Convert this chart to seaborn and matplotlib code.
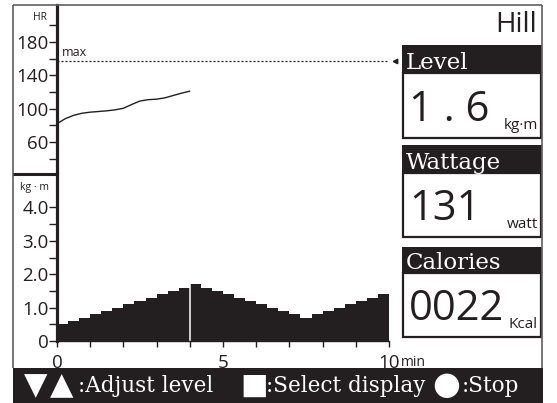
import matplotlib
matplotlib.use("Agg")
import matplotlib.pyplot as plt
from matplotlib.patches import Rectangle
from matplotlib.lines import Line2D
import seaborn as sns

# Heart-rate trace recorded so far (minutes, bpm)
hr_time = [0.0, 0.25, 0.5, 0.75, 1.0, 1.25, 1.5, 1.75, 2.0,
           2.25, 2.5, 2.75, 3.0, 3.25, 3.5, 3.75, 4.0]
hr_bpm = [82, 88, 92, 94.5, 95.8, 96.6, 97.4, 98.6, 100.5,
          105, 109.2, 110.8, 111.4, 113, 115.8, 118.6, 121]
hr_max = 157
hr_ticks = [60, 100, 140, 180]
hr_minor_ticks = [40, 80, 120, 160, 200]

# Hill program: load for each 20-second segment (kg·m)
segment_min = 1 / 3
load_kgm = [0.5, 0.6, 0.7, 0.8, 0.9, 1.0, 1.1, 1.2, 1.3, 1.4, 1.5, 1.6,
            1.7, 1.6, 1.5, 1.4, 1.3, 1.2, 1.1, 1.0, 0.9, 0.8, 0.7,
            0.8, 0.9, 1.0, 1.1, 1.2, 1.3, 1.4]
elapsed_min = 4
load_ticks = [0, 1, 2, 3, 4]
load_tick_labels = ["0", "1.0", "2.0", "3.0", "4.0"]
load_minor_ticks = [0.5, 1.5, 2.5, 3.5]
time_ticks = [0, 1, 2, 3, 4, 5, 6, 7, 8, 9, 10]
time_tick_labels = ["0", "", "", "", "", "5", "", "", "", "", "10"]

program_name = "Hill"
current_level = 1.6
wattage = 131
calories = 22

sns.set_theme(style="white")
plt.rcParams["font.family"] = ["Open Sans", "DejaVu Sans"]

INK = "#231f20"
FRAME = "#5f5f5f"
W, H = 557, 403
fig = plt.figure(figsize=(W / 100, H / 100), dpi=100)
fig.patch.set_facecolor("white")


def fx(x):
    return x / W


def fy(y):
    return 1 - y / H


def axes_px(x0, y0, x1, y1):
    return fig.add_axes([fx(x0), fy(y1), (x1 - x0) / W, (y1 - y0) / H])


def line_px(x0, y0, x1, y1, color, lw):
    fig.add_artist(Line2D([fx(x0), fx(x1)], [fy(y0), fy(y1)],
                          transform=fig.transFigure, color=color, lw=lw,
                          solid_capstyle="butt"))


def rect_px(x0, y0, x1, y1, **kw):
    fig.add_artist(Rectangle((fx(x0), fy(y1)), (x1 - x0) / W, (y1 - y0) / H,
                             transform=fig.transFigure, **kw))


# ---- heart-rate panel ----
ax_hr = axes_px(57, 5, 389, 174)
sns.lineplot(x=hr_time, y=hr_bpm, ax=ax_hr, color=INK, linewidth=1.0)
ax_hr.plot([0, 10.0], [hr_max, hr_max], color=INK, lw=0.9,
           ls=(0, (1.6, 1.6)), clip_on=False)
ax_hr.plot([10.17], [hr_max], marker="<", ms=3.2, color=INK, clip_on=False)
ax_hr.text(0.15, 167, "max", fontsize=9, color=INK, va="center")
ax_hr.set_xlim(0, 10)
ax_hr.set_ylim(21.6, 224.4)
ax_hr.set_yticks(hr_ticks)
ax_hr.set_yticklabels([str(t) for t in hr_ticks])
ax_hr.set_yticks(hr_minor_ticks, minor=True)
ax_hr.set_xticks([])

# ---- load panel ----
ax_ld = axes_px(57, 174, 389, 341)
centers = [(i + 0.5) * segment_min for i in range(len(load_kgm))]
sns.barplot(x=centers, y=load_kgm, ax=ax_ld, native_scale=True, width=1.0,
            color=INK, saturation=1, edgecolor="none", linewidth=0)
ax_ld.axvline(elapsed_min, color="white", lw=1.1)
ax_ld.set_xlim(0, 10)
ax_ld.set_ylim(0, 5.0)
ax_ld.set_yticks(load_ticks)
ax_ld.set_yticklabels(load_tick_labels)
ax_ld.set_yticks(load_minor_ticks, minor=True)
ax_ld.set_xticks(time_ticks)
ax_ld.set_xticklabels(time_tick_labels)

for ax in (ax_hr, ax_ld):
    ax.set_facecolor("white")
    ax.set_xlabel("")
    ax.set_ylabel("")
    ax.grid(False)
    for s in ("top", "right"):
        ax.spines[s].set_visible(False)
    ax.spines["left"].set_color(INK)
    ax.spines["left"].set_linewidth(2.3)
    ax.tick_params(axis="y", which="both", direction="out", length=5.5,
                   width=1.0, color=INK, pad=0.5, labelsize=13.5,
                   labelcolor=INK, left=True)
ax_hr.spines["bottom"].set_visible(False)
ax_ld.spines["bottom"].set_color(INK)
ax_ld.spines["bottom"].set_linewidth(1.0)
ax_ld.tick_params(axis="x", which="major", direction="out", length=4,
                  width=1.0, color=INK, pad=5.5, labelsize=13.5, labelcolor=INK,
                  bottom=True)

# axis captions
fig.text(fx(47), fy(17), "HR", fontsize=7.5, ha="right", va="center", color=INK)
fig.text(fx(35), fy(187), "kg · m", fontsize=7.5, ha="center", va="center",
         color=INK)
fig.text(fx(401), fy(366), "min", fontsize=10, ha="left", va="baseline",
         color=INK)

# ---- outer frame ----
line_px(13, 5, 542, 5, FRAME, 1.2)
line_px(13, 5, 13, 368, FRAME, 1.2)
line_px(542, 5, 542, 368, FRAME, 1.2)
line_px(13, 174, 57, 174, INK, 2.2)

fig.text(fx(537), fy(32), program_name, fontsize=20, ha="right",
         va="baseline", color=INK)

# ---- read-out panels ----
panels = [
    ("Level", f"{current_level:.1f}".replace(".", " . "), "kg·m", 45, 73, 138),
    ("Wattage", f"{wattage}", "watt", 145, 173, 237),
    ("Calories", f"{calories:04d}", "Kcal", 247, 273, 337),
]
for title, value, unit, y_top, y_mid, y_bot in panels:
    rect_px(403, y_mid, 541, y_bot, facecolor="white", edgecolor=INK, lw=1.6)
    rect_px(402, y_top, 542, y_mid, facecolor=INK, edgecolor="none")
    fig.text(fx(406), fy(y_mid - 4), title, fontsize=16.5, family="DejaVu Serif",
             color="white", ha="left", va="baseline")
    fig.text(fx(409), fy(y_bot - 17), value, fontsize=30, color=INK,
             ha="left", va="baseline")
    fig.text(fx(538), fy(y_bot - 9), unit, fontsize=11, color=INK,
             ha="right", va="baseline")

# ---- key guide bar ----
rect_px(13, 368, 543, 403, facecolor=INK, edgecolor="none")
ybar = fy(386)
sym = dict(family="DejaVu Sans", color="white", ha="center", va="center")
txt = dict(family="DejaVu Serif", color="white", ha="left", va="center",
           fontsize=15.5)
fig.text(fx(36), ybar, "▼", fontsize=22, **sym)
fig.text(fx(62), ybar, "▲", fontsize=22, **sym)
fig.text(fx(78), ybar, ":Adjust level", **txt)
fig.text(fx(254), ybar, "■", fontsize=21, **sym)
fig.text(fx(266), ybar, ":Select display", **txt)
fig.text(fx(446), ybar, "●", fontsize=23, **sym)
fig.text(fx(462), ybar, ":Stop", **txt)

fig.savefig("out.png", dpi=100, facecolor="white")
